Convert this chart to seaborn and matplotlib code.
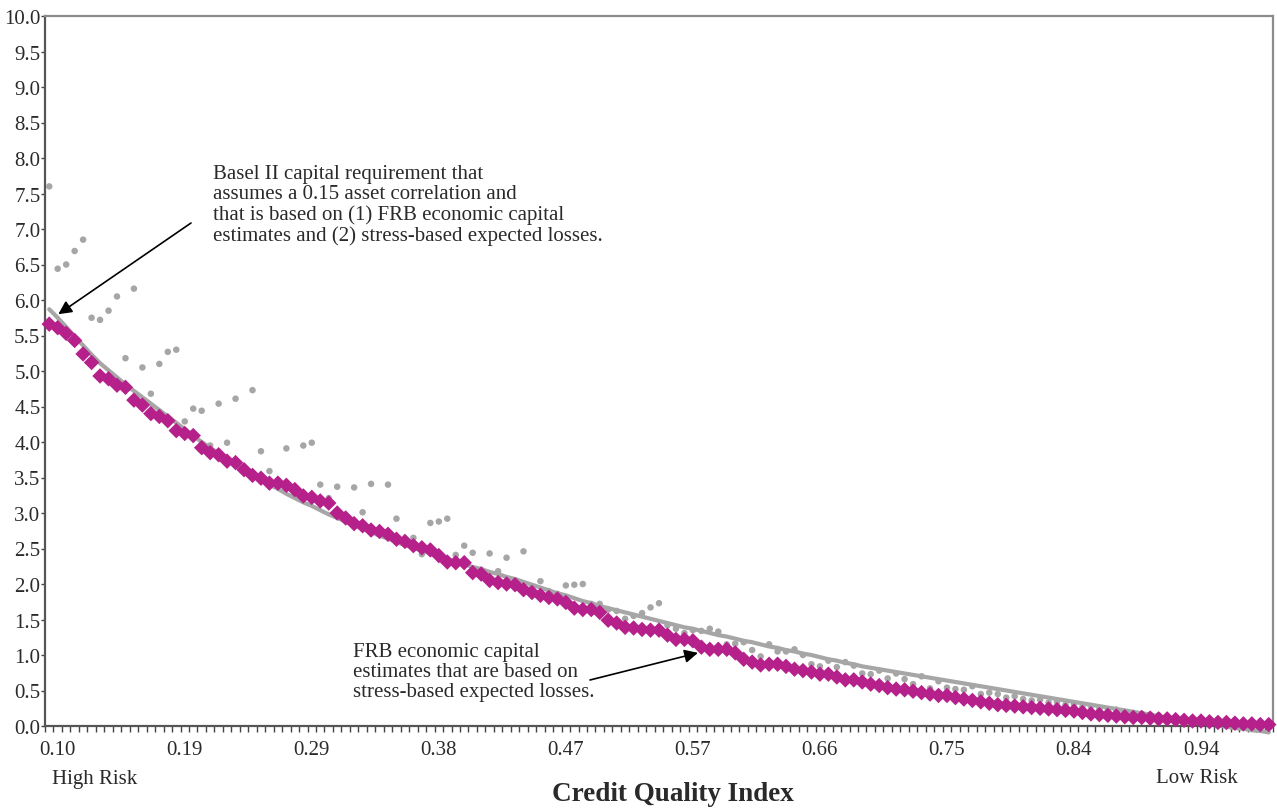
import numpy as np
import matplotlib
matplotlib.use("Agg")
import matplotlib.pyplot as plt
import seaborn as sns

# FRB economic capital estimates based on stress-based expected losses (pink diamonds)
frb_stress = [5.66, 5.61, 5.53, 5.43, 5.24, 5.12, 4.93, 4.89, 4.80, 4.77,
              4.59, 4.52, 4.40, 4.36, 4.30, 4.16, 4.12, 4.09, 3.92, 3.85,
              3.82, 3.73, 3.71, 3.61, 3.53, 3.49, 3.42, 3.42, 3.39, 3.33,
              3.24, 3.22, 3.17, 3.14, 3.00, 2.93, 2.85, 2.82, 2.76, 2.74,
              2.70, 2.63, 2.60, 2.54, 2.51, 2.48, 2.40, 2.31, 2.30, 2.30,
              2.16, 2.14, 2.05, 2.02, 2.00, 1.99, 1.92, 1.88, 1.84, 1.81,
              1.79, 1.74, 1.66, 1.64, 1.64, 1.60, 1.49, 1.45, 1.39, 1.38,
              1.36, 1.35, 1.35, 1.28, 1.22, 1.22, 1.20, 1.11, 1.08, 1.08,
              1.08, 1.03, 0.94, 0.90, 0.86, 0.87, 0.87, 0.84, 0.80, 0.78,
              0.76, 0.73, 0.73, 0.69, 0.65, 0.65, 0.62, 0.59, 0.57, 0.54,
              0.52, 0.51, 0.49, 0.47, 0.45, 0.43, 0.43, 0.40, 0.38, 0.36,
              0.34, 0.32, 0.30, 0.29, 0.28, 0.27, 0.26, 0.25, 0.24, 0.23,
              0.22, 0.21, 0.19, 0.17, 0.16, 0.15, 0.14, 0.13, 0.12, 0.12,
              0.11, 0.10, 0.10, 0.09, 0.08, 0.07, 0.07, 0.06, 0.05, 0.05,
              0.04, 0.03, 0.03, 0.02, 0.02]

# Basel II capital requirement, 0.15 asset correlation (grey curve)
basel_curve = [5.87, 5.75, 5.62, 5.49, 5.36, 5.23, 5.11, 5.01, 4.91, 4.81,
               4.72, 4.63, 4.54, 4.45, 4.36, 4.27, 4.18, 4.09, 4.00, 3.92,
               3.84, 3.76, 3.68, 3.61, 3.53, 3.46, 3.40, 3.34, 3.27, 3.21,
               3.15, 3.10, 3.04, 2.98, 2.93, 2.88, 2.83, 2.78, 2.73, 2.68,
               2.64, 2.59, 2.55, 2.51, 2.47, 2.43, 2.39, 2.35, 2.31, 2.28,
               2.24, 2.21, 2.17, 2.14, 2.10, 2.07, 2.03, 1.99, 1.95, 1.91,
               1.87, 1.84, 1.80, 1.76, 1.73, 1.69, 1.66, 1.63, 1.60, 1.57,
               1.54, 1.51, 1.48, 1.45, 1.42, 1.39, 1.37, 1.34, 1.31, 1.28,
               1.26, 1.23, 1.20, 1.18, 1.15, 1.12, 1.10, 1.07, 1.05, 1.02,
               1.00, 0.97, 0.94, 0.92, 0.89, 0.87, 0.84, 0.82, 0.80, 0.78,
               0.76, 0.74, 0.72, 0.70, 0.68, 0.66, 0.64, 0.62, 0.60, 0.58,
               0.56, 0.54, 0.52, 0.50, 0.48, 0.46, 0.44, 0.42, 0.40, 0.38,
               0.36, 0.34, 0.32, 0.30, 0.28, 0.26, 0.24, 0.22, 0.20, 0.18,
               0.16, 0.14, 0.12, 0.10, 0.08, 0.06, 0.05, 0.03, 0.01, -0.01,
               -0.03, -0.04, -0.06, -0.07, -0.09]

# scattered grey points
grey_points = [7.60, 6.44, 6.50, 6.69, 6.85, 5.75, 5.72, 5.85, 6.05, 5.18,
               6.16, 5.05, 4.68, 5.10, 5.27, 5.30, 4.29, 4.47, 4.44, 3.95,
               4.54, 3.99, 4.61, 3.65, 4.73, 3.87, 3.59, 3.40, 3.91, 3.28,
               3.95, 3.99, 3.40, 3.21, 3.37, 2.90, 3.36, 3.01, 3.41, 2.70,
               3.40, 2.92, 2.57, 2.65, 2.42, 2.86, 2.88, 2.92, 2.41, 2.54,
               2.44, 2.20, 2.43, 2.18, 2.37, 2.05, 2.46, 1.97, 2.04, 1.90,
               1.86, 1.98, 1.99, 2.00, 1.72, 1.72, 1.64, 1.62, 1.51, 1.55,
               1.59, 1.67, 1.73, 1.42, 1.37, 1.31, 1.35, 1.34, 1.37, 1.33,
               1.15, 1.16, 1.18, 1.07, 0.98, 1.15, 1.05, 1.05, 1.08, 1.00,
               0.87, 0.84, 0.92, 0.83, 0.90, 0.85, 0.74, 0.73, 0.78, 0.67,
               0.74, 0.66, 0.59, 0.70, 0.53, 0.63, 0.54, 0.52, 0.51, 0.56,
               0.45, 0.47, 0.45, 0.40, 0.42, 0.38, 0.36, 0.37, 0.33, 0.34,
               0.30, 0.31, 0.27, 0.28, 0.24, 0.22, 0.23, 0.19, 0.18, 0.17,
               0.16, 0.15, 0.13, 0.12, 0.11, 0.10, 0.08, 0.08, 0.09, 0.07,
               0.08, 0.05, 0.04, 0.03, 0.02]

tick_labels = ["0.10", "0.19", "0.29", "0.38", "0.47", "0.57", "0.66", "0.75", "0.84", "0.94"]

PINK = "#B5208A"
GREY = "#A6A6A6"
TXT = "#2a2a2a"

sns.set_style("white")
plt.rcParams["font.family"] = ["Liberation Serif", "DejaVu Serif"]

W, H = 1277, 812
fig = plt.figure(figsize=(W / 100, H / 100), dpi=100)
ax = fig.add_axes([45 / W, 85 / H, 1228 / W, 710 / H])

pos = np.arange(len(frb_stress))

sns.lineplot(x=pos, y=basel_curve, color=GREY, lw=3.0, ax=ax, zorder=2, clip_on=False)
sns.scatterplot(x=pos, y=grey_points, color=GREY, s=22, edgecolor="none", ax=ax, zorder=3)
sns.scatterplot(x=pos, y=frb_stress, color=PINK, marker="D", s=62, edgecolor="none",
                ax=ax, zorder=4, clip_on=False)

ax.set_xlim(-0.5, len(pos) - 0.5)
ax.set_ylim(0, 10)

# y axis
ax.set_yticks(np.arange(0, 10.01, 0.5))
ax.set_yticklabels([f"{v:.1f}" for v in np.arange(0, 10.01, 0.5)], fontsize=15, color=TXT)
ax.tick_params(axis="y", direction="out", length=3, width=1, color="#444444", pad=0.3, left=True)

# x axis: a tick between every category, labels every 15
ax.set_xticks(np.arange(1, len(pos), 15))
ax.set_xticklabels(tick_labels, fontsize=15, color=TXT)
ax.set_xticks(np.arange(-0.5, len(pos), 1), minor=True)
ax.tick_params(axis="x", which="major", length=0, pad=10)
ax.tick_params(axis="x", which="minor", direction="out", length=4, width=1, color="#444444", bottom=True)

for side in ["left", "bottom"]:
    ax.spines[side].set_color("#555555")
    ax.spines[side].set_linewidth(1.6)
for side in ["top", "right"]:
    ax.spines[side].set_color("#8C8C8C")
    ax.spines[side].set_linewidth(1.6)
ax.grid(False)

def fx(x):
    return x / W

def fy(y):
    return 1 - y / H

fig.text(fx(52), fy(780), "High Risk", fontsize=15, ha="left", va="center", color=TXT)
fig.text(fx(1238), fy(779), "Low Risk", fontsize=15, ha="right", va="center", color=TXT)
fig.text(fx(673), fy(795), "Credit Quality Index", fontsize=19.5, fontweight="bold",
         ha="center", va="center", color=TXT)

# annotations
fig.text(fx(213), fy(165),
         "Basel II capital requirement that\nassumes a 0.15 asset correlation and\n"
         "that is based on (1) FRB economic capital\nestimates and (2) stress-based expected losses.",
         fontsize=15, ha="left", va="top", linespacing=1.08, color=TXT)
ax.annotate("", xy=(1.07, 5.80), xycoords="data", xytext=(fx(191), fy(224)),
            textcoords="figure fraction",
            arrowprops=dict(arrowstyle="-|>", color="black", lw=1.2, mutation_scale=20,
                            shrinkA=0, shrinkB=0))

fig.text(fx(353), fy(643),
         "FRB economic capital\nestimates that are based on\nstress-based expected losses.",
         fontsize=15, ha="left", va="top", linespacing=1.08, color=TXT)
ax.annotate("", xy=(76.6, 1.03), xycoords="data", xytext=(fx(590), fy(681)),
            textcoords="figure fraction",
            arrowprops=dict(arrowstyle="-|>", color="black", lw=1.2, mutation_scale=20,
                            shrinkA=0, shrinkB=0))

fig.savefig("out.png", dpi=100)
